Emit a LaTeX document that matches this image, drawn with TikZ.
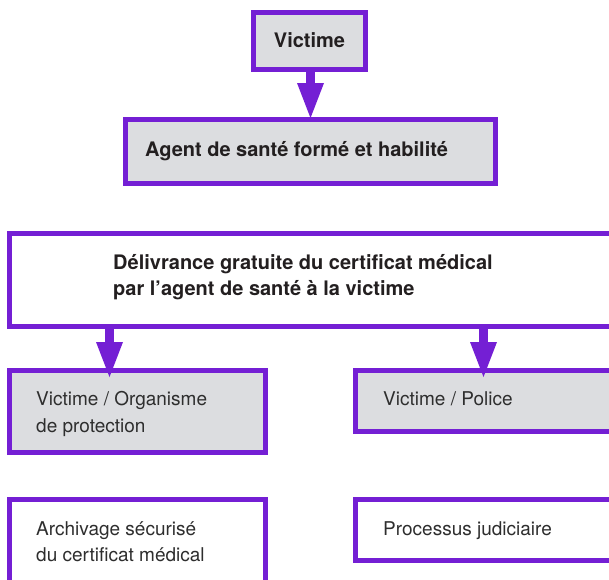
\documentclass[tikz,border=0pt]{standalone}
\usepackage{fontspec}
\setmainfont{TeX Gyre Heros}
\usetikzlibrary{arrows.meta,calc}
\definecolor{pur}{HTML}{741FD4}
\definecolor{boxgray}{HTML}{DCDDE0}
\definecolor{ink}{HTML}{231F20}
\definecolor{inkl}{HTML}{2E2E2E}
\begin{document}
\begin{tikzpicture}[x=1pt,y=-1pt,
  box/.style={draw=pur, line width=5pt, rectangle, inner sep=0pt, outer sep=0pt, anchor=north west},
  gbox/.style={box, fill=boxgray},
  wbox/.style={box, fill=white},
  bt/.style={anchor=base west, inner sep=0pt, font=\fontsize{20}{26}\selectfont\bfseries, text=ink, align=left},
  rt/.style={anchor=base west, inner sep=0pt, font=\fontsize{19}{26.5}\selectfont, text=inkl, align=left},
  arr/.style={draw=pur, line width=9.5pt, -{Triangle[width=27pt,length=35pt,line width=0pt]}}]
\useasboundingbox (0,0) rectangle (609,579);
\clip (0,0) rectangle (609,579);

\node[gbox, minimum width=112pt, minimum height=57pt] (v) at (253.5,12.5) {};
\node[bt, anchor=base] (tv) at (309.5,47) {Victime};

\node[gbox, minimum width=370pt, minimum height=64pt] (a) at (125.5,119.5) {};
\node[bt] (ta) at (145,156) {Agent de santé formé et habilité};

\node[wbox, minimum width=602pt, minimum height=93pt] (d) at (9.5,233.5) {};
\node[bt] (td) at (113,295) {Délivrance gratuite du certificat médical\\par l’agent de santé à la victime};

\node[gbox, minimum width=256pt, minimum height=82pt] (o) at (9.5,370.5) {};
\node[rt] (to) at (36,432) {Victime / Organisme\\de protection};

\node[gbox, minimum width=256pt, minimum height=61pt] (p) at (355.5,370.5) {};
\node[rt] (tp) at (383,405.5) {Victime / Police};

\node[wbox, minimum width=256pt, minimum height=90pt] (ar) at (9.5,499.5) {};
\node[rt] (tar) at (36,561.5) {Archivage sécurisé\\du certificat médical};

\node[wbox, minimum width=256pt, minimum height=61pt] (j) at (355.5,499.5) {};
\node[rt] (tj) at (383,535) {Processus judiciaire};

\draw[arr, shorten >=1.5pt] (v.south -| a.north) -- (a.north);
\draw[arr, shorten >=-6.5pt] ($(o.north |- d.south)+(-28,0)$) -- ($(o.north)+(-28,0)$);
\draw[arr, shorten >=-6.5pt] (p.north |- d.south) -- (p.north);
\end{tikzpicture}
\end{document}
